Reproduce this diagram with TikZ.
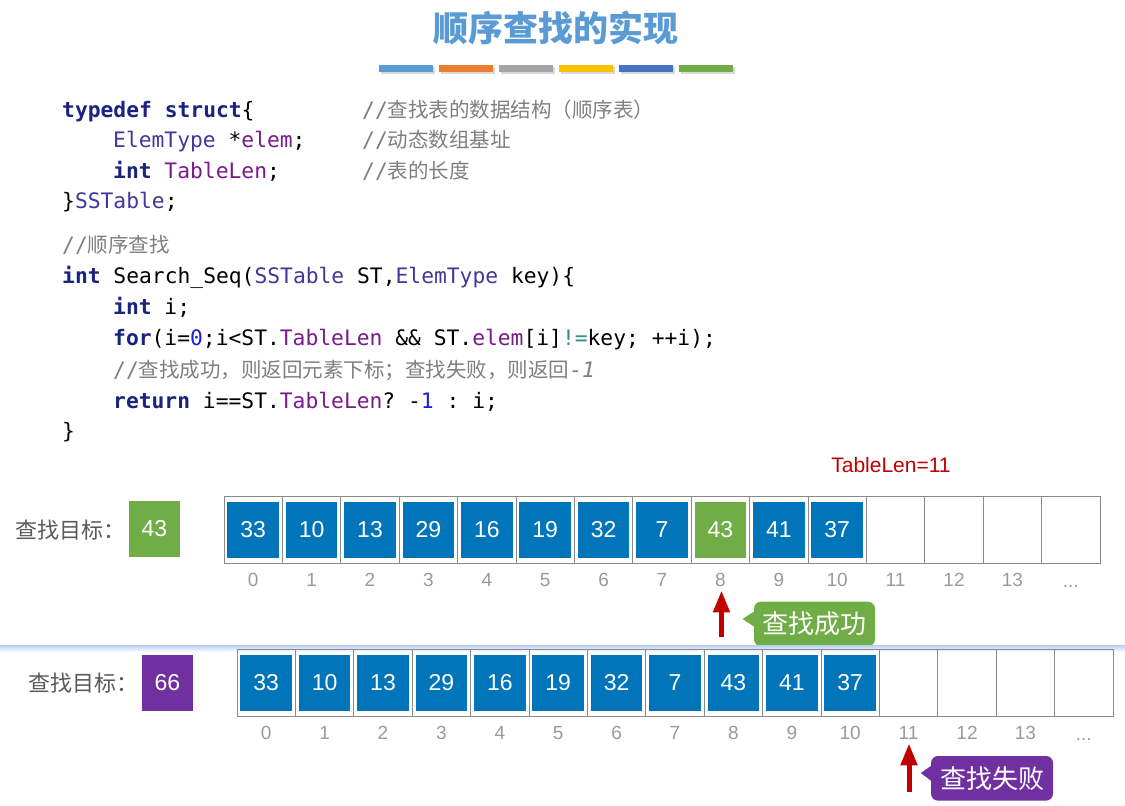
\documentclass[tikz,border=0pt]{standalone}
\usepackage{fontspec}
\setmainfont{Liberation Sans}
\setmonofont{DejaVu Sans Mono}
\newfontfamily\cjk{Noto Sans CJK SC}
\usetikzlibrary{arrows.meta,calc}
\definecolor{titleblue}{HTML}{5B9BD5}
\definecolor{barA}{HTML}{5B9BD5}
\definecolor{barB}{HTML}{ED7D31}
\definecolor{barC}{HTML}{A5A5A5}
\definecolor{barD}{HTML}{FFC000}
\definecolor{barE}{HTML}{4472C4}
\definecolor{barF}{HTML}{70AD47}
\definecolor{cblue}{HTML}{0075B9}
\definecolor{cgreen}{HTML}{70AD47}
\definecolor{cpurple}{HTML}{7030A0}
\definecolor{cred}{HTML}{C00000}
\definecolor{idxgray}{HTML}{9A9A9A}
\definecolor{labgray}{HTML}{5A5A5A}
\definecolor{framegray}{HTML}{8A8A8A}
\definecolor{panelblue}{HTML}{B5CEF3}
\definecolor{kwcol}{HTML}{1A237E}
\definecolor{tycol}{HTML}{42379A}
\definecolor{fdcol}{HTML}{7A1A8C}
\definecolor{nmcol}{HTML}{1C1CDB}
\definecolor{opcol}{HTML}{2B8C8C}
\definecolor{cmcol}{HTML}{7F7F7F}
\newcommand\codekw[1]{{\color{kwcol}\bfseries #1}}
\newcommand\codety[1]{{\color{tycol}#1}}
\newcommand\codefd[1]{{\color{fdcol}#1}}
\newcommand\codenm[1]{{\color{nmcol}#1}}
\newcommand\codeop[1]{{\color{opcol}#1}}
\newcommand\codezh[1]{{\cjk\fontsize{20.5}{25}\selectfont #1}}
\begin{document}
\begin{tikzpicture}[x=1pt,y=-1pt,
  titlestyle/.style={font=\cjk\bfseries\fontsize{35}{40}\selectfont, text=titleblue, inner sep=0},
  codeline/.style={anchor=base west, inner sep=0, font=\ttfamily\fontsize{21.3}{25}\selectfont},
  codecmt/.style={codeline, text=cmcol},
  cellbox/.style={draw=framegray, line width=0.9pt, minimum width=58.4pt, minimum height=67pt, inner sep=0},
  valbox/.style={fill=cblue, minimum width=51.5pt, minimum height=56pt, inner sep=0, text=white, font=\fontsize{23}{23}\selectfont},
  idxlab/.style={text=idxgray, inner sep=0, text height=13.6pt, text depth=0pt, font=\fontsize{19}{19}\selectfont},
  targetlab/.style={anchor=west, inner sep=0, text=labgray, font=\cjk\fontsize{22}{22}\selectfont},
  uparrow/.style={draw=cred, line width=5pt, -{Triangle[width=16pt,length=22pt]}},
  calloutbox/.style={rounded corners=7pt, inner sep=0, text=white, font=\cjk\fontsize{26}{26}\selectfont, minimum height=44.6pt}
]
\path[use as bounding box] (0,0) rectangle (1125,806);
\fill[white] (0,0) rectangle (1125,806);

% title
\node[titlestyle] (title) at (556,28) {顺序查找的实现};
\foreach \c [count=\i from 0] in {barA,barB,barC,barD,barE,barF} {
  \fill[black,opacity=0.15] (380.5+60*\i,67.3) rectangle +(54.4,6.4);
  \fill[\c] (379+60*\i,65.3) rectangle +(54.4,6.4);
}

% code
\node[codeline] (c1) at (62,117.5) {\codekw{typedef} \codekw{struct}\{};
\node[codecmt] (m1) at (362,117.5) {//\codezh{查找表的数据结构（顺序表）}};
\node[codeline] (c2) at (113,147.5) {\codety{ElemType} *\codefd{elem};};
\node[codecmt] (m2) at (362,147.5) {//\codezh{动态数组基址}};
\node[codeline] (c3) at (113,178.5) {\codekw{int} \codefd{TableLen};};
\node[codecmt] (m3) at (362,178.5) {//\codezh{表的长度}};
\node[codeline] (c4) at (62,208.5) {\}\codety{SSTable};};
\node[codecmt] (c5) at (62,252.5) {//\codezh{顺序查找}};
\node[codeline] (c6) at (62,283.5) {\codekw{int} Search\char`\_Seq(\codety{SSTable} ST,\codety{ElemType} key)\{};
\node[codeline] (c7) at (113,314.5) {\codekw{int} i;};
\node[codeline] (c8) at (113,345.5) {\codekw{for}(i=\codenm{0};i<ST.\codefd{TableLen} \&\& ST.\codefd{elem}[i]\codeop{!=}key; ++i);};
\node[codecmt] (c9) at (113,377.5) {//\codezh{查找成功，则返回元素下标；查找失败，则返回}\itshape-1};
\node[codeline] (c10) at (113,408.5) {\codekw{return} i==ST.\codefd{TableLen}? -\codenm{1} : i;};
\node[codeline] (c11) at (62,438.5) {\}};

% TableLen label
\node[text=cred, inner sep=0, font=\fontsize{21}{21}\selectfont] (tlen) at (891,465) {TableLen=11};

% first array
\node[targetlab] (l1) at (15,530) {查找目标：};
\node[valbox, fill=cgreen] (t1) at (154.5,529) {43};
\foreach \k in {0,...,14} {
  \node[cellbox] (a1c\k) at (253.2+58.4*\k,529.5) {};
}
\foreach \v/\col [count=\k from 0] in {33/cblue,10/cblue,13/cblue,29/cblue,16/cblue,19/cblue,32/cblue,7/cblue,43/cgreen,41/cblue,37/cblue} {
  \node[valbox, fill=\col] (a1v\k) at ($(a1c\k)+(0,0.5)$) {\v};
}
\foreach \k in {0,...,13} {
  \node[idxlab] (a1i\k) at ($(a1c\k.south)+(0,16)$) {\k};
}
\node[idxlab] (a1i14) at ($(a1c14.south)+(0,17)$) {...};

% success arrow and callout
\coordinate (ar1s) at (721.5,637);
\draw[uparrow, shorten >=4pt] (ar1s) -- (ar1s |- a1i8.south);
\node[calloutbox, fill=cgreen, minimum width=121pt] (cal1) at (814.5,624) {查找成功};
\fill[cgreen] ([xshift=1pt,yshift=13pt]cal1.west) -- ([xshift=-11.3pt,yshift=5pt]cal1.west) -- ([xshift=1pt,yshift=-3pt]cal1.west) -- cycle;

% lower panel
\fill[white] (0,645) rectangle (1125,806);
\shade[top color=panelblue, bottom color=white] (0,645) rectangle (1125,652);

% second array
\node[targetlab] (l2) at (28,683) {查找目标：};
\node[valbox, fill=cpurple] (t2) at (167.5,683) {66};
\foreach \k in {0,...,14} {
  \node[cellbox] (a2c\k) at (266.2+58.4*\k,682.5) {};
}
\foreach \v [count=\k from 0] in {33,10,13,29,16,19,32,7,43,41,37} {
  \node[valbox] (a2v\k) at ($(a2c\k)+(0,0.5)$) {\v};
}
\foreach \k in {0,...,13} {
  \node[idxlab] (a2i\k) at ($(a2c\k.south)+(0,16)$) {\k};
}
\node[idxlab] (a2i14) at ($(a2c14.south)+(0,17)$) {...};

% failure arrow and callout
\coordinate (ar2s) at (909,792);
\draw[uparrow, shorten >=4pt] (ar2s) -- (ar2s |- a2i11.south);
\node[calloutbox, fill=cpurple, minimum width=122pt] (cal2) at (992,778.3) {查找失败};
\fill[cpurple] ([xshift=1pt,yshift=13pt]cal2.west) -- ([xshift=-10pt,yshift=5.3pt]cal2.west) -- ([xshift=1pt,yshift=-3pt]cal2.west) -- cycle;
\end{tikzpicture}
\end{document}
